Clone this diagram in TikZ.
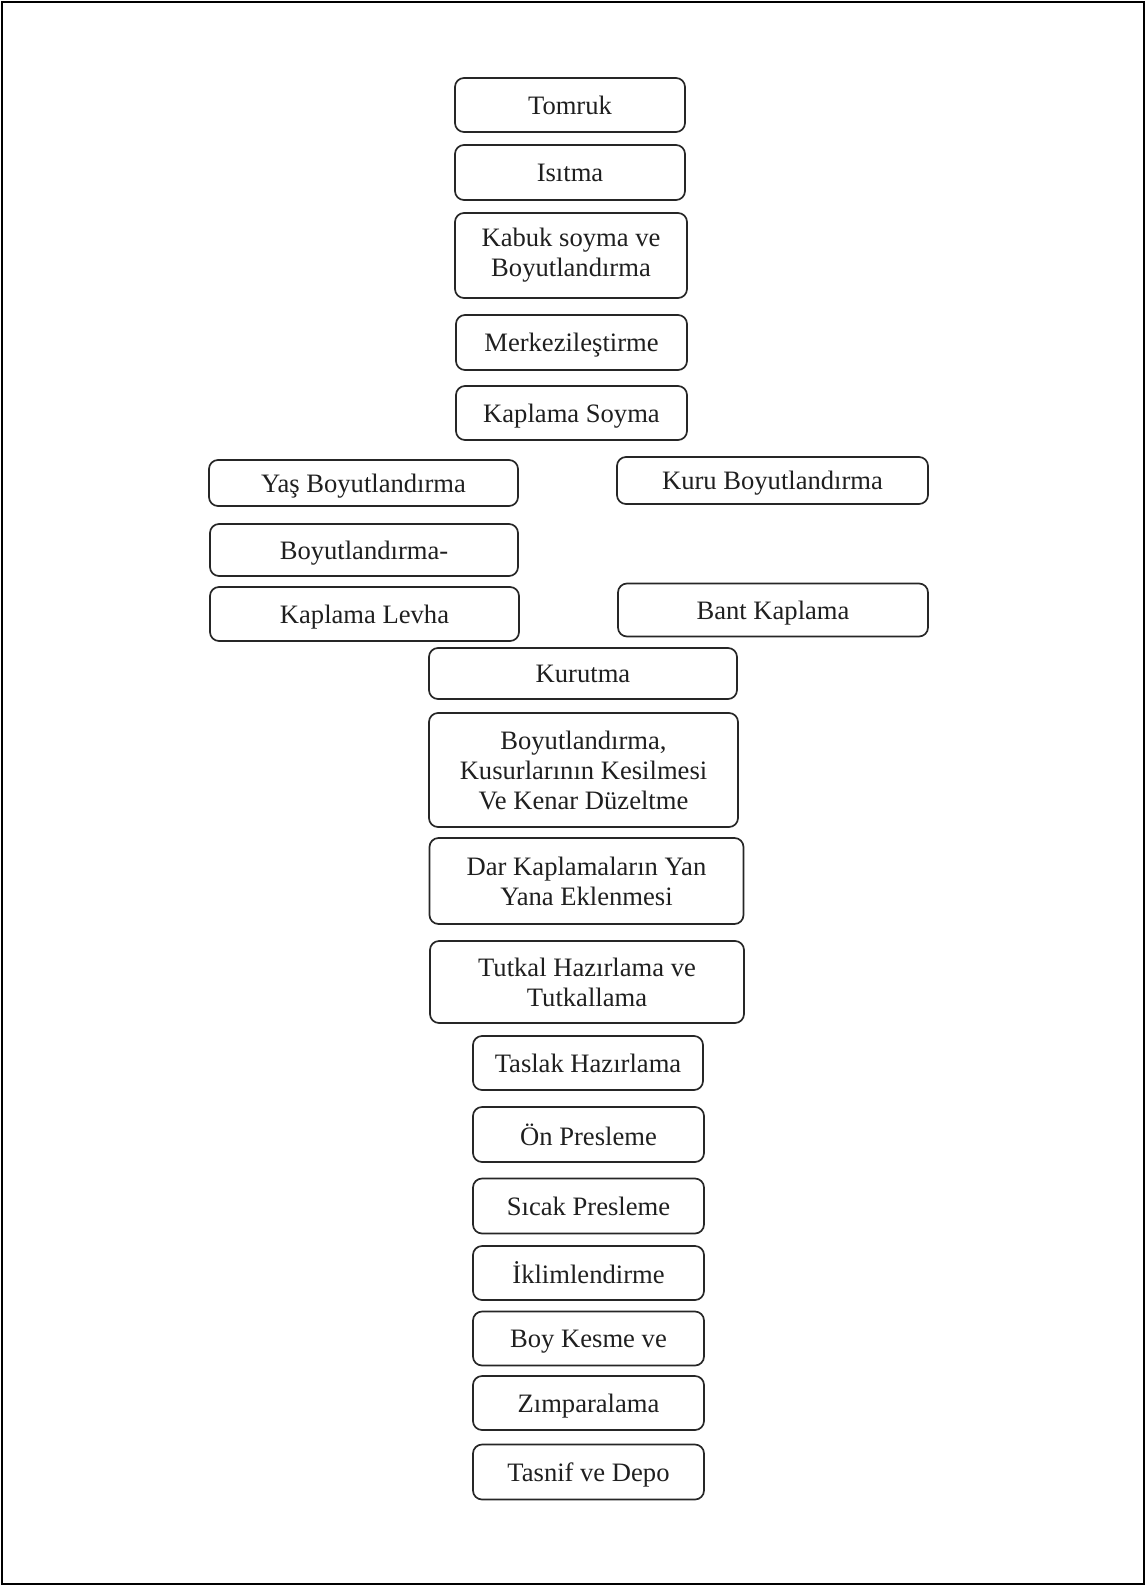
\documentclass[tikz,border=0pt]{standalone}
\usepackage{fontspec}
\setmainfont{Liberation Serif}
\begin{document}
\begin{tikzpicture}[x=0.5pt,y=-0.5pt]
\tikzset{
  procbox/.style={draw=black!85, line width=0.85pt, rounded corners=4.5pt,
    inner sep=0pt, align=center, text=black!88,
    font=\fontsize{13.3}{15}\selectfont},
  oneline/.style={procbox, text depth=0pt},
}
\useasboundingbox (0,0) rectangle (1145,1585);
\draw[line width=1pt, black] (1.5,1.5) rectangle (1143.5,1583.5);

\node[oneline, minimum width=115pt, minimum height=27pt] (tomruk) at (570,105) {Tomruk};
\node[oneline, minimum width=115pt, minimum height=27.5pt] (isitma) at (570,172.5) {Isıtma};
\node[procbox, minimum width=116pt, minimum height=42.5pt] (kabuk) at (571,255.5) {Kabuk soyma ve\\Boyutlandırma};
\node[oneline, minimum width=115.5pt, minimum height=27.5pt] (merkez) at (571.5,342.5) {Merkezileştirme};
\node[oneline, minimum width=115.5pt, minimum height=27pt] (ksoyma) at (571.5,413) {Kaplama Soyma};

\node[oneline, minimum width=154.5pt, minimum height=23pt] (yas) at (363.5,483) {Yaş Boyutlandırma};
\node[oneline, minimum width=155.5pt, minimum height=23.5pt] (kuru) at (772.5,480.5) {Kuru Boyutlandırma};
\node[oneline, minimum width=154pt, minimum height=26pt] (boyut) at (364,550) {Boyutlandırma-};
\node[oneline, minimum width=154.5pt, minimum height=27pt] (levha) at (364.5,614) {Kaplama Levha};
\node[oneline, minimum width=155pt, minimum height=26.5pt] (bant) at (773,610) {Bant Kaplama};

\node[oneline, minimum width=154pt, minimum height=25.5pt] (kurutma) at (583,673.5) {Kurutma};
\node[procbox, minimum width=154.5pt, minimum height=57pt] (kusur) at (583.5,770) {Boyutlandırma,\\Kusurlarının Kesilmesi\\Ve Kenar Düzeltme};
\node[procbox, minimum width=157pt, minimum height=43pt] (dar) at (586.5,881) {Dar Kaplamaların Yan\\Yana Eklenmesi};
\node[procbox, minimum width=157pt, minimum height=41pt] (tutkal) at (587,982) {Tutkal Hazırlama ve\\Tutkallama};

\node[oneline, minimum width=115pt, minimum height=27pt] (taslak) at (588,1063) {Taslak Hazırlama};
\node[oneline, minimum width=115.5pt, minimum height=27.5pt] (onpres) at (588.5,1134.5) {Ön Presleme};
\node[oneline, minimum width=115.5pt, minimum height=27.5pt] (sicak) at (588.5,1206) {Sıcak Presleme};
\node[oneline, minimum width=115.5pt, minimum height=27pt] (iklim) at (588.5,1273) {İklimlendirme};
\node[oneline, minimum width=115.5pt, minimum height=27pt] (boykes) at (588.5,1338.5) {Boy Kesme ve};
\node[oneline, minimum width=115.5pt, minimum height=27pt] (zimpara) at (588.5,1403) {Zımparalama};
\node[oneline, minimum width=115.5pt, minimum height=27.5pt] (tasnif) at (588.5,1472) {Tasnif ve Depo};
\end{tikzpicture}
\end{document}
